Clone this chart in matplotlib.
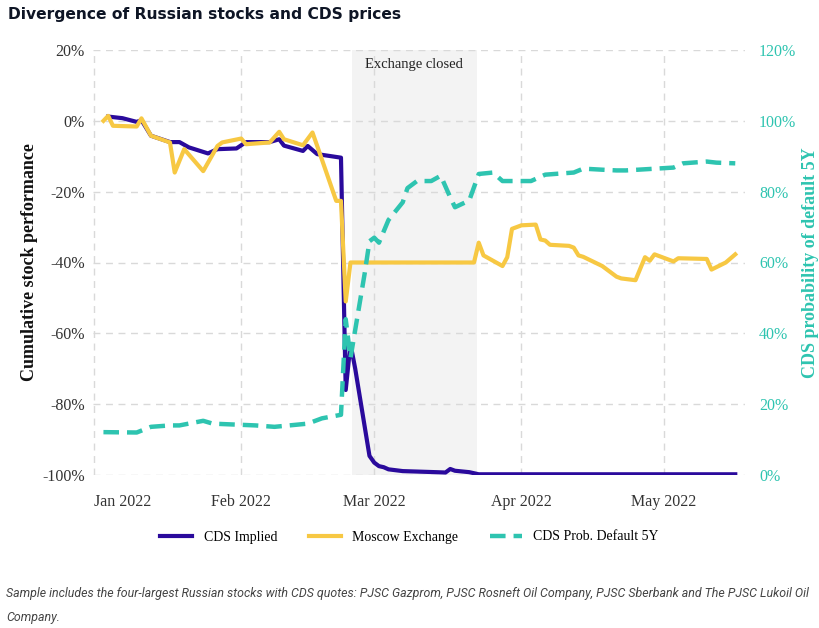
import matplotlib.pyplot as plt
import matplotlib.dates as mdates
import matplotlib.ticker as mticker
import pandas as pd

# Moscow Exchange cumulative performance (%)
moex_dates = ["2022-01-03", "2022-01-04", "2022-01-05", "2022-01-10", "2022-01-11", "2022-01-13",
              "2022-01-17", "2022-01-18", "2022-01-20", "2022-01-24", "2022-01-27", "2022-01-28",
              "2022-02-01", "2022-02-02", "2022-02-07", "2022-02-09", "2022-02-10", "2022-02-14",
              "2022-02-16", "2022-02-17", "2022-02-21", "2022-02-22", "2022-02-23", "2022-02-24",
              "2022-03-22", "2022-03-23", "2022-03-24", "2022-03-28", "2022-03-29", "2022-03-30",
              "2022-04-01", "2022-04-04", "2022-04-05", "2022-04-06", "2022-04-07", "2022-04-11",
              "2022-04-12", "2022-04-13", "2022-04-14", "2022-04-18", "2022-04-19", "2022-04-21",
              "2022-04-22", "2022-04-25", "2022-04-27", "2022-04-28", "2022-04-29", "2022-05-03",
              "2022-05-04", "2022-05-10", "2022-05-11", "2022-05-14", "2022-05-16"]
moex = [0, 1.4, -1.4, -1.6, 0.7, -4.2,
        -6.1, -14.6, -8, -14.2, -7.1, -6.1,
        -5, -6.6, -6.1, -3.1, -5.2, -6.9,
        -3.3, -7.1, -22.6, -22.6, -51, -40,
        -40, -34.4, -38, -41, -38.5, -30.5,
        -29.5, -29.3, -33.5, -33.8, -35, -35.3,
        -35.8, -38, -38.4, -41, -42, -44,
        -44.5, -45, -38.5, -39.5, -37.7, -39.7,
        -38.8, -39, -42, -40, -37.7]

# CDS implied stock performance (%)
cds_dates = ["2022-01-04", "2022-01-07", "2022-01-10", "2022-01-11", "2022-01-13", "2022-01-17",
             "2022-01-19", "2022-01-21", "2022-01-25", "2022-01-27", "2022-01-31", "2022-02-02",
             "2022-02-07", "2022-02-09", "2022-02-10", "2022-02-14", "2022-02-15", "2022-02-17",
             "2022-02-22", "2022-02-23", "2022-02-24", "2022-02-25", "2022-02-28", "2022-03-01",
             "2022-03-02", "2022-03-03", "2022-03-04", "2022-03-07", "2022-03-14", "2022-03-16",
             "2022-03-17", "2022-03-18", "2022-03-21", "2022-03-23", "2022-05-16"]
cds_implied = [1.2, 0.75, -0.3, 0.2, -4.2, -6,
               -6, -7.5, -9.2, -8, -7.8, -6,
               -6, -5.2, -7, -8.5, -7.1, -9.4,
               -10.4, -76, -63, -70, -94.6, -96.5,
               -97.5, -97.8, -98.4, -98.9, -99.2, -99.3,
               -98.3, -98.8, -99.2, -99.8, -99.8]

# CDS probability of default 5Y (%)
pd_dates = ["2022-01-03", "2022-01-10", "2022-01-13", "2022-01-17", "2022-01-19", "2022-01-24",
            "2022-01-26", "2022-02-04", "2022-02-08", "2022-02-15", "2022-02-18", "2022-02-22",
            "2022-02-23", "2022-02-24", "2022-02-25", "2022-02-27", "2022-02-28", "2022-03-01",
            "2022-03-02", "2022-03-04", "2022-03-07", "2022-03-08", "2022-03-10", "2022-03-13",
            "2022-03-15", "2022-03-17", "2022-03-18", "2022-03-21", "2022-03-23", "2022-03-26",
            "2022-03-28", "2022-04-03", "2022-04-06", "2022-04-12", "2022-04-14", "2022-04-18",
            "2022-04-21", "2022-04-23", "2022-05-03", "2022-05-05", "2022-05-10", "2022-05-12",
            "2022-05-16"]
pd_5y = [12.1, 12, 13.6, 14, 14, 15.3,
         14.5, 14, 13.6, 14.5, 16, 17,
         44, 33, 41, 57, 66, 67,
         65.6, 72, 77, 81, 83, 83,
         84.5, 78.4, 75.6, 77.5, 85, 85.4,
         83, 83, 84.8, 85.4, 86.5, 86.2,
         86, 86, 86.8, 88, 88.5, 88.2,
         88]

closed_start = pd.Timestamp("2022-02-24 08:00")
closed_end = pd.Timestamp("2022-03-22 14:00")

blue = "#2a0a9c"
yellow = "#f7c843"
teal = "#2ec4b0"

serif = "Liberation Serif"

fig = plt.figure(figsize=(8.19, 6.28), dpi=100)
ax = fig.add_axes([93 / 819, 1 - 475 / 628, (745 - 93) / 819, (475 - 50) / 628])
ax2 = ax.twinx()

ax.axvspan(closed_start, closed_end, color="#f3f3f3", zorder=0, lw=0)
ax.text(closed_start + (closed_end - closed_start) / 2, 16, "Exchange closed",
        ha="center", va="center", fontsize=10.5, family=serif, color="#222")

l1, = ax.plot(pd.to_datetime(cds_dates), cds_implied, color=blue, lw=3, label="CDS Implied", zorder=3)
l2, = ax.plot(pd.to_datetime(moex_dates), moex, color=yellow, lw=3, label="Moscow Exchange", zorder=4)
l3, = ax2.plot(pd.to_datetime(pd_dates), pd_5y, color=teal, lw=3.2, linestyle=(0, (3.5, 1.8)),
               label="CDS Prob. Default 5Y")

t0 = pd.Timestamp("2022-01-01")
ax.set_xlim(t0 - pd.Timedelta(days=0.2), t0 + pd.Timedelta(days=137.05))
ax.set_ylim(-100, 20)
ax2.set_ylim(0, 120)

ax.xaxis.set_major_locator(mdates.MonthLocator())
ax.xaxis.set_major_formatter(mdates.DateFormatter("%b %Y"))
ax.yaxis.set_major_locator(mticker.MultipleLocator(20))
ax.yaxis.set_major_formatter(mticker.FuncFormatter(lambda v, p: f"{v:.0f}%"))
ax2.yaxis.set_major_locator(mticker.MultipleLocator(20))
ax2.yaxis.set_major_formatter(mticker.FuncFormatter(lambda v, p: f"{v:.0f}%"))

ax.grid(True, color="#d9d9d9", linestyle=(0, (5, 4)), lw=1)
ax.set_axisbelow(True)
for a in (ax, ax2):
    for s in a.spines.values():
        s.set_visible(False)
ax.tick_params(axis="y", length=0, labelsize=11.5, labelcolor="#333", pad=6)
ax.tick_params(axis="x", length=0, labelsize=11.5, labelcolor="#333", pad=14)
ax2.tick_params(length=0, labelsize=11.5, labelcolor=teal, pad=10)
fig.canvas.draw()
for lab in ax.get_xticklabels() + ax.get_yticklabels() + ax2.get_yticklabels():
    lab.set_family(serif)
ax.get_xticklabels()[0].set_horizontalalignment("left")

ax.set_ylabel("Cumulative stock performance", family=serif, fontsize=13, fontweight="bold",
              color="#111", labelpad=3)
ax2.set_ylabel("CDS probability of default 5Y", family=serif, fontsize=13, fontweight="bold",
               color=teal, labelpad=4)

fig.legend(handles=[l1, l2, l3], loc="center", bbox_to_anchor=(0.5, 1 - 537 / 628), ncol=3,
           frameon=False, prop={"family": serif, "size": 10}, handlelength=2.3,
           columnspacing=2.3, handletextpad=0.8)

fig.text(8 / 819, 1 - 15 / 628, "Divergence of Russian stocks and CDS prices", fontsize=11.2,
         fontweight="bold", family="DejaVu Sans", color="#0e1525", va="center")
fig.text(6 / 819, 1 - 594 / 628,
         "Sample includes the four-largest Russian stocks with CDS quotes: PJSC Gazprom, PJSC Rosneft Oil Company, PJSC Sberbank and The PJSC Lukoil Oil",
         fontsize=8.9, style="italic", family="Roboto", color="#444", va="center")
fig.text(6 / 819, 1 - 618 / 628, "Company.", fontsize=8.9, style="italic", family="Roboto",
         color="#444", va="center")

fig.savefig("out.png", dpi=100)
